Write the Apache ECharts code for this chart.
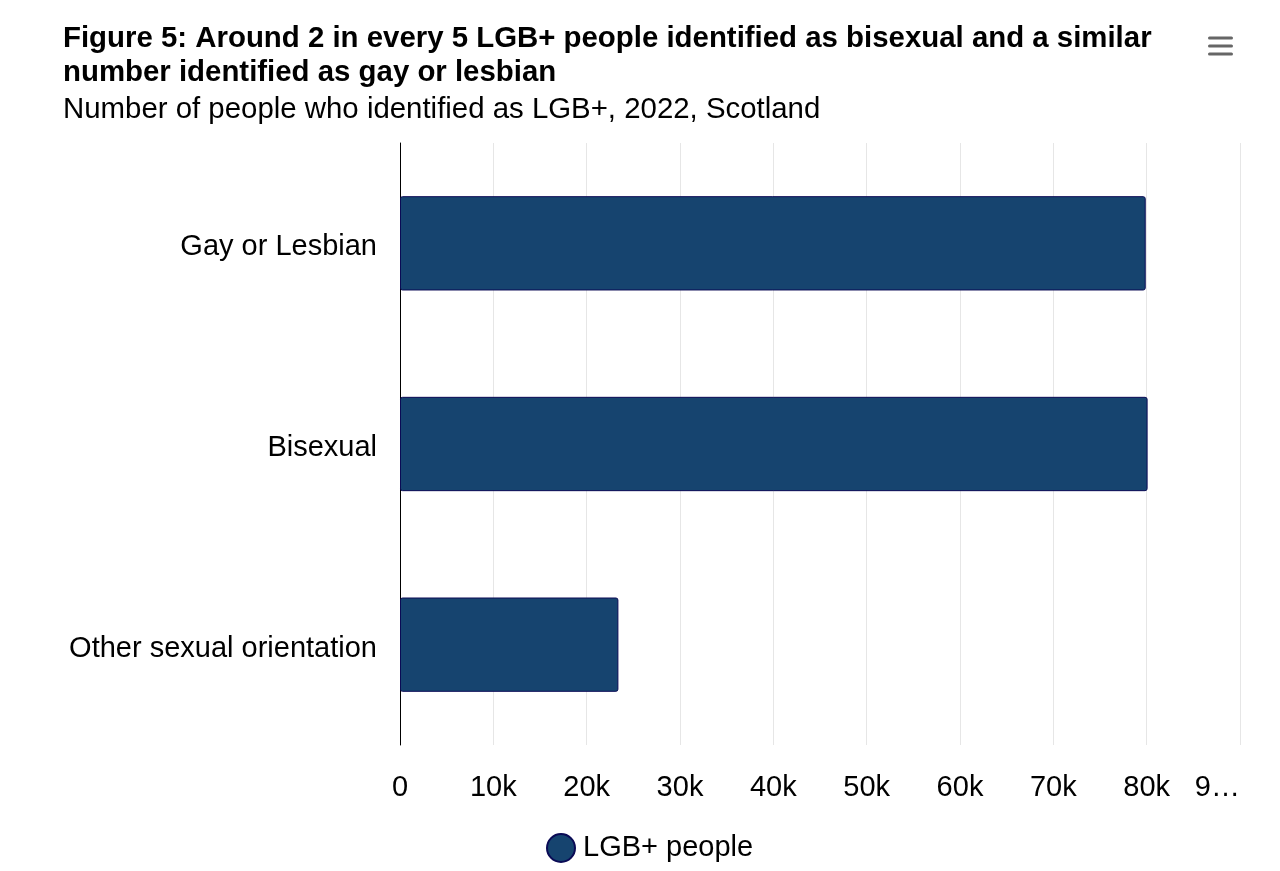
<!DOCTYPE html>
<html>
<head>
<meta charset="utf-8">
<script src="https://cdn.jsdelivr.net/npm/echarts@6/dist/echarts.min.js"></script>
<style>
html,body{margin:0;padding:0;background:#fff;}
#chart{width:1280px;height:871px;}
</style>
</head>
<body>
<div id="chart"></div>
<script>
const titleText = 'Figure 5: Around 2 in every 5 LGB+ people identified as bisexual and a similar\nnumber identified as gay or lesbian';
const subtitleText = 'Number of people who identified as LGB+, 2022, Scotland';
const categories = ['Gay or Lesbian', 'Bisexual', 'Other sexual orientation'];
const seriesName = 'LGB+ people';
const values = [79900, 80100, 23400];
const xMin = 0, xMax = 90000, xInterval = 10000;

const chart = echarts.init(document.getElementById('chart'), null, {renderer: 'canvas'});
const font = '"Liberation Sans", Arial, Helvetica, sans-serif';
chart.setOption({
  animation: false,
  backgroundColor: '#ffffff',
  textStyle: {fontFamily: font},
  title: {
    text: titleText,
    subtext: subtitleText,
    left: 58,
    top: 17,
    itemGap: 4,
    textStyle: {fontFamily: font, fontSize: 29.4, fontWeight: 'bold', color: '#000', lineHeight: 34},
    subtextStyle: {fontFamily: font, fontSize: 29.4, color: '#000', lineHeight: 32}
  },
  legend: {
    bottom: 3,
    left: 541,
    icon: 'circle',
    itemWidth: 28,
    itemHeight: 28,
    itemGap: 10,
    textStyle: {fontFamily: font, fontSize: 29, color: '#000', padding: [0, 0, 0, 3]},
    data: [seriesName]
  },
  grid: {left: 400, right: 40, top: 143, bottom: 126, containLabel: false},
  xAxis: {
    type: 'value',
    min: xMin, max: xMax, interval: xInterval,
    axisLine: {show: false},
    axisTick: {show: false},
    splitLine: {show: true, lineStyle: {color: '#e6e6e6', width: 1}},
    axisLabel: {
      fontFamily: font, fontSize: 29, color: '#000', margin: 28,
      alignMaxLabel: 'right',
      formatter: function (v) {
        if (v === 0) return '0';
        const s = (v / 1000) + 'k';
        return v === xMax ? s.charAt(0) + '…' : s;
      }
    }
  },
  yAxis: {
    type: 'category',
    inverse: true,
    data: categories,
    axisLine: {show: true, lineStyle: {color: '#000', width: 1}},
    axisTick: {show: false},
    axisLabel: {
      margin: 23,
      formatter: function (v) { return '{c|' + v + '}'; },
      rich: {c: {fontFamily: font, fontSize: 29, color: '#000', padding: [8, 0, 0, 0]}}
    }
  },
  series: [{
    name: seriesName,
    type: 'bar',
    data: values,
    barWidth: '47%',
    itemStyle: {color: '#16446f', borderColor: '#0a0a55', borderWidth: 1, borderRadius: 2}
  }],
  graphic: [
    {type: 'rect', shape: {x: 1208, y: 36.5, width: 25, height: 3, r: 1.5}, style: {fill: '#666'}},
    {type: 'rect', shape: {x: 1208, y: 44.5, width: 25, height: 3, r: 1.5}, style: {fill: '#666'}},
    {type: 'rect', shape: {x: 1208, y: 52.5, width: 25, height: 3, r: 1.5}, style: {fill: '#666'}}
  ]
});
</script>
</body>
</html>
